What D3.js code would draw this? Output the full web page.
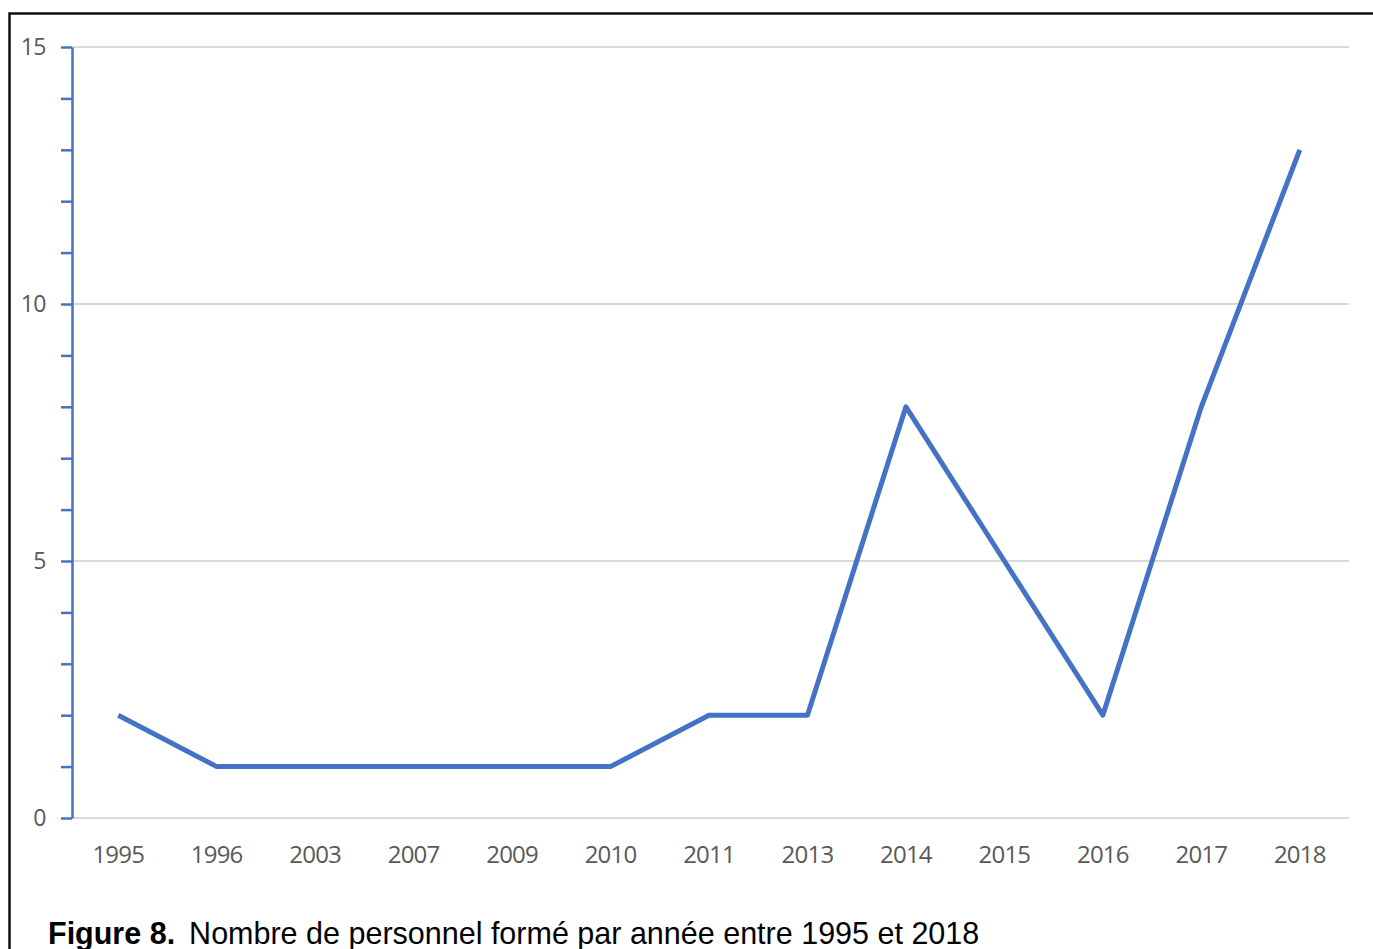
<!DOCTYPE html>
<html>
<head>
<meta charset="utf-8">
<script src="https://cdn.jsdelivr.net/npm/d3@7"></script>
<style>
  body { margin: 0; background: #fff; }
</style>
</head>
<body>
<svg id="chart" width="1373" height="949"></svg>
<script>
// data
const years = ["1995", "1996", "2003", "2007", "2009", "2010", "2011", "2013", "2014", "2015", "2016", "2017", "2018"];
const counts = [2, 1, 1, 1, 1, 1, 2, 2, 8, 5, 2, 8, 13];
const yTicks = [0, 5, 10, 15];
const minorTicks = d3.range(0, 16);

const svg = d3.select("#chart");

// frame around the figure (runs off the right and bottom edges)
svg.append("rect")
  .attr("x", 9.5)
  .attr("y", 13.5)
  .attr("width", 1400)
  .attr("height", 1000)
  .attr("fill", "none")
  .attr("stroke", "#111")
  .attr("stroke-width", 2.5);

const plotLeft = 72, plotRight = 1349, plotTop = 47, plotBottom = 818;

const x = d3.scaleBand().domain(years).range([70, 1350]);
const y = d3.scaleLinear().domain([0, 15]).range([plotBottom, plotTop]);

// gridlines
svg.append("g")
  .selectAll("line")
  .data(yTicks)
  .enter()
  .append("line")
  .attr("x1", plotLeft)
  .attr("x2", plotRight)
  .attr("y1", (d) => y(d))
  .attr("y2", (d) => y(d))
  .attr("stroke", "#d9d9d9")
  .attr("stroke-width", 2);

// y axis with a tick at every unit
let yAxis = svg.append("g")
  .attr("transform", "translate(" + plotLeft + ",0)")
  .call(d3.axisLeft(y).tickValues(minorTicks).tickSize(11).tickSizeOuter(0).tickFormat(""));
yAxis.select(".domain").attr("stroke", "#4472c4").attr("stroke-width", 2.5);
yAxis.selectAll(".tick line").attr("stroke", "#4472c4").attr("stroke-width", 2.5);

// y labels
svg.append("g")
  .selectAll("text")
  .data(yTicks)
  .enter()
  .append("text")
  .attr("x", 46)
  .attr("y", (d) => y(d) + 8)
  .attr("text-anchor", "end")
  .attr("font-family", "Open Sans, sans-serif")
  .attr("font-size", "23px")
  .attr("letter-spacing", "-0.5px")
  .attr("fill", "#595959")
  .text((d) => d);

// x axis labels
let xAxis = svg.append("g")
  .attr("transform", "translate(-1," + plotBottom + ")")
  .call(d3.axisBottom(x).tickSize(0).tickPadding(28));
xAxis.select(".domain").remove();
xAxis.selectAll("text")
  .attr("font-family", "Open Sans, sans-serif")
  .attr("font-size", "24px")
  .attr("letter-spacing", "-0.8px")
  .attr("fill", "#595959");

// the series line
const line = d3.line()
  .x((d, i) => x(years[i]) + x.bandwidth() / 2 - 1)
  .y((d) => y(d));

svg.append("path")
  .datum(counts)
  .attr("d", line)
  .attr("fill", "none")
  .attr("stroke", "#4472c4")
  .attr("stroke-width", 5)
  .attr("stroke-linejoin", "round");

// caption
let caption = svg.append("text")
  .attr("x", 48)
  .attr("y", 944)
  .attr("font-family", "Liberation Sans, Arial, sans-serif")
  .attr("font-size", "30.5px")
  .attr("fill", "#000");
caption.append("tspan").attr("font-weight", "bold").text("Figure 8.");
caption.append("tspan").attr("dx", 14).text("Nombre de personnel formé par année entre 1995 et 2018");
</script>
</body>
</html>
